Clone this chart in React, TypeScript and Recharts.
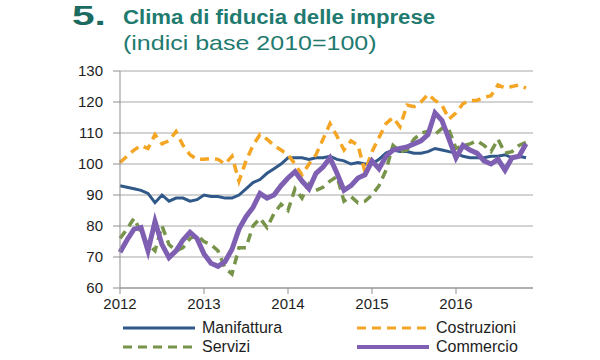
import { CartesianGrid, Line, LineChart, XAxis, YAxis } from "recharts";

// monthly index values, Jan 2012 .. Nov 2016
const manifattura = [
  93, 92.5, 92, 91.5, 90.5, 87.5, 90, 88, 89, 89, 88, 88.5,
  90, 89.5, 89.5, 89, 89, 90, 92, 94, 95, 97, 98.5, 100,
  102, 102, 102, 101.5, 102, 102, 102.5, 101.5, 101, 100, 100.5, 100,
  100, 101.5, 103.5, 104.5, 104, 104, 103.5, 103.5, 104, 105, 104.5, 104,
  103.5, 102.5, 102, 102, 102, 102.5, 102.5, 103, 102, 102.5, 102,
];
const costruzioni = [
  100.5, 102.5, 104.5, 106, 105, 109.5, 106.5, 107.5, 110.5, 106, 103, 101.5,
  101.5, 101.8, 101.5, 100, 102.5, 94.5, 101, 106, 109.5, 108, 106, 104.5,
  103, 100, 96.5, 100, 103, 108, 113, 109, 104.5, 107.5, 106, 97.5,
  104, 108.5, 113, 115, 112, 119, 118.5, 120, 122.5, 120.5, 119, 114.5,
  116.5, 119.5, 120.5, 120.5, 121.5, 122, 125.5, 124.5, 125, 125.5, 124.5,
];
const servizi = [
  76, 79, 82.5, 78, 74, 72, 80, 74, 72, 73, 76, 77,
  75, 74, 72, 66.5, 64.5, 73, 73, 80, 82.5, 79.5, 84, 87,
  85, 92, 89, 93.5, 91.5, 92.5, 94.5, 96, 88, 89.5, 87.5, 88,
  90, 93, 98, 106, 104, 104.5, 108, 110, 110.5, 109.5, 111.5, 111,
  105, 106, 106.5, 107.5, 106, 104, 108, 103.5, 104, 106, 107,
];
const commercio = [
  71.5, 75.5, 79, 79.5, 72, 81.5, 74, 69.8, 72, 75.5, 78, 76,
  71, 68, 67, 68.5, 72.5, 79, 83, 86, 90.5, 89, 90, 93,
  95.5, 97.5, 94.5, 92, 97, 99, 102, 97, 91.5, 93, 95.5, 96.5,
  101, 98.5, 102.5, 104.5, 105, 105.5, 106.5, 107.5, 109.5, 116.5, 114, 108,
  102, 106, 104.5, 103.5, 101, 100, 101.5, 98, 102, 102.5, 106.5,
];

const yearTicks = [0, 12, 24, 36, 48];
const yearLabels = ["2012", "2013", "2014", "2015", "2016"];
const yTicks = [60, 70, 80, 90, 100, 110, 120, 130];

const data = manifattura.map((v, i) => ({
  month: i,
  manifattura: v,
  costruzioni: costruzioni[i],
  servizi: servizi[i],
  commercio: commercio[i],
}));

const COLORS = {
  manifattura: "#30598a",
  costruzioni: "#f5a524",
  servizi: "#77944a",
  commercio: "#7f5fb2",
  title: "#1f7a6f",
  grid: "#a8a8a8",
  axis: "#8f8f8f",
  text: "#1e1e1e",
};

const FONT = "'Liberation Sans', Arial, sans-serif";

const legendItems = [
  { name: "Manifattura", color: COLORS.manifattura, dash: undefined, width: 3, left: 123, top: 319 },
  { name: "Costruzioni", color: COLORS.costruzioni, dash: "9 6", width: 3, left: 357, top: 319 },
  { name: "Servizi", color: COLORS.servizi, dash: "9 6", width: 3, left: 123, top: 338 },
  { name: "Commercio", color: COLORS.commercio, dash: undefined, width: 4, left: 357, top: 338 },
];

export default function App() {
  return (
    <div
      style={{
        position: "absolute",
        left: 0,
        top: 0,
        width: 600,
        height: 360,
        background: "#fff",
        fontFamily: FONT,
        overflow: "hidden",
      }}
    >
      <div
        style={{
          position: "absolute",
          left: 72,
          top: 0,
          fontSize: 28,
          fontWeight: 900,
          color: "#1b6b61",
          transform: "scaleX(1.45)",
          transformOrigin: "left top",
        }}
      >
        5.
      </div>
      <div
        style={{
          position: "absolute",
          left: 123,
          top: 6,
          fontSize: 20,
          fontWeight: 700,
          color: COLORS.title,
          whiteSpace: "nowrap",
          transform: "scaleX(1.11)",
          transformOrigin: "left top",
        }}
      >
        Clima di fiducia delle imprese
      </div>
      <div
        style={{
          position: "absolute",
          left: 123,
          top: 31,
          fontSize: 21,
          color: COLORS.title,
          whiteSpace: "nowrap",
          transform: "scaleX(1.19)",
          transformOrigin: "left top",
        }}
      >
        (indici base 2010=100)
      </div>

      <div style={{ position: "absolute", left: 0, top: 0 }}>
        <LineChart
          width={600}
          height={360}
          data={data}
          margin={{ top: 71, right: 67, left: 80, bottom: 42 }}
        >
          <CartesianGrid
            horizontal
            vertical={false}
            stroke={COLORS.grid}
            strokeWidth={1.2}
          />
          <XAxis
            dataKey="month"
            type="number"
            domain={[0, 59]}
            ticks={yearTicks}
            tickFormatter={(v: number) => yearLabels[yearTicks.indexOf(v)]}
            height={30}
            stroke={COLORS.axis}
            tickSize={6}
            tickMargin={4}
            tick={{ fill: COLORS.text, fontSize: 15, fontFamily: FONT }}
          />
          <YAxis
            domain={[60, 130]}
            ticks={yTicks}
            width={40}
            stroke={COLORS.axis}
            tickSize={7}
            tickMargin={10}
            tick={{ fill: COLORS.text, fontSize: 15, fontFamily: FONT }}
          />
          <Line
            dataKey="manifattura"
            stroke={COLORS.manifattura}
            strokeWidth={3}
            dot={false}
            isAnimationActive={false}
          />
          <Line
            dataKey="costruzioni"
            stroke={COLORS.costruzioni}
            strokeWidth={3.5}
            strokeDasharray="9 6"
            dot={false}
            isAnimationActive={false}
          />
          <Line
            dataKey="servizi"
            stroke={COLORS.servizi}
            strokeWidth={3.5}
            strokeDasharray="9 6"
            dot={false}
            isAnimationActive={false}
          />
          <Line
            dataKey="commercio"
            stroke={COLORS.commercio}
            strokeWidth={5}
            dot={false}
            isAnimationActive={false}
          />
        </LineChart>
      </div>

      {legendItems.map((item) => (
        <div
          key={item.name}
          style={{
            position: "absolute",
            left: item.left,
            top: item.top,
            display: "flex",
            alignItems: "center",
            height: 18,
          }}
        >
          <svg width={72} height={8}>
            <line
              x1={0}
              y1={4}
              x2={72}
              y2={4}
              stroke={item.color}
              strokeWidth={item.width}
              strokeDasharray={item.dash}
            />
          </svg>
          <span
            style={{
              marginLeft: 7,
              fontSize: 16,
              color: COLORS.text,
              whiteSpace: "nowrap",
            }}
          >
            {item.name}
          </span>
        </div>
      ))}
    </div>
  );
}
